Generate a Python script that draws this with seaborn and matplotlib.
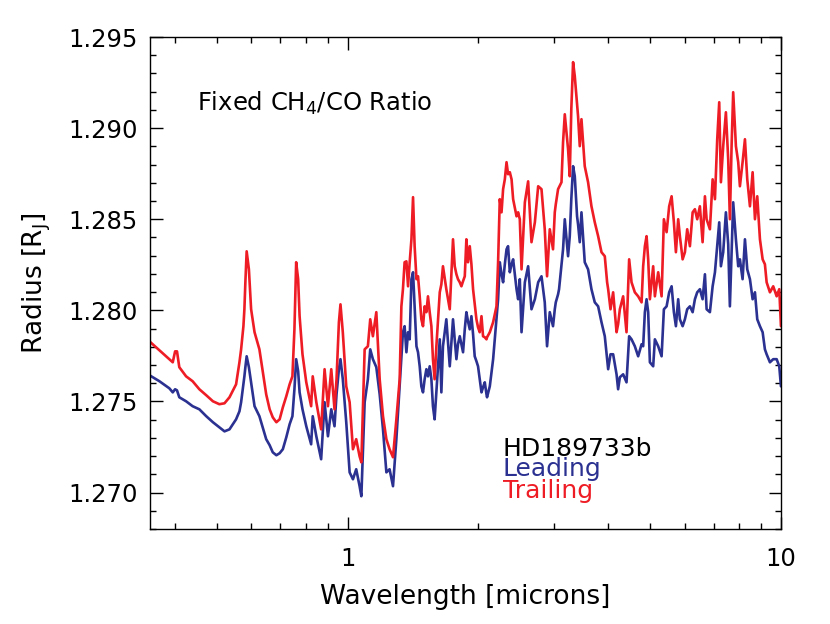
import numpy as np
import pandas as pd
import matplotlib
matplotlib.use("Agg")
import matplotlib.pyplot as plt
import matplotlib.ticker as mticker
import seaborn as sns

# Wavelength grid [microns] shared by both spectra
wavelength = [
    0.349, 0.368, 0.388, 0.395, 0.400, 0.404, 0.409, 0.424, 0.439, 0.455,
    0.472, 0.489, 0.506, 0.520, 0.534, 0.553, 0.563, 0.568, 0.575, 0.578,
    0.581, 0.585, 0.592, 0.599, 0.610, 0.626, 0.649, 0.661, 0.672, 0.685,
    0.697, 0.709, 0.722, 0.735, 0.746, 0.754, 0.761, 0.769, 0.775, 0.787,
    0.803, 0.824, 0.831, 0.847, 0.869, 0.885, 0.901, 0.917, 0.933, 0.943,
    0.955, 0.963, 0.975, 0.993, 1.011, 1.029, 1.047, 1.066, 1.076, 1.095,
    1.114, 1.128, 1.144, 1.165, 1.186, 1.207, 1.229, 1.250, 1.273, 1.296,
    1.319, 1.331, 1.342, 1.354, 1.367, 1.379, 1.391, 1.404, 1.416, 1.428,
    1.442, 1.454, 1.467, 1.480, 1.493, 1.506, 1.520, 1.533, 1.547, 1.561,
    1.574, 1.588, 1.603, 1.632, 1.646, 1.660, 1.690, 1.721, 1.751, 1.767,
    1.783, 1.798, 1.815, 1.831, 1.847, 1.864, 1.880, 1.896, 1.914, 1.931,
    1.948, 1.965, 1.983, 2.000, 2.018, 2.037, 2.054, 2.073, 2.092, 2.098,
    2.129, 2.167, 2.206, 2.225, 2.245, 2.266, 2.285, 2.306, 2.327, 2.346,
    2.368, 2.390, 2.410, 2.454, 2.475, 2.497, 2.520, 2.565, 2.610, 2.657,
    2.705, 2.753, 2.802, 2.851, 2.886, 2.928, 2.979, 3.007, 3.023, 3.060,
    3.076, 3.116, 3.142, 3.171, 3.227, 3.256, 3.283, 3.314, 3.344, 3.385,
    3.403, 3.434, 3.465, 3.526, 3.589, 3.654, 3.719, 3.786, 3.854, 3.922,
    3.971, 3.993, 4.043, 4.100, 4.175, 4.210, 4.249, 4.324, 4.402, 4.464,
    4.521, 4.601, 4.683, 4.769, 4.809, 4.853, 4.897, 4.939, 4.984, 5.072,
    5.118, 5.209, 5.304, 5.369, 5.447, 5.522, 5.594, 5.662, 5.723, 5.793,
    5.845, 5.931, 6.003, 6.077, 6.165, 6.255, 6.331, 6.409, 6.501, 6.595,
    6.677, 6.737, 6.856, 6.956, 7.042, 7.128, 7.204, 7.269, 7.358, 7.464,
    7.556, 7.624, 7.693, 7.759, 7.872, 7.969, 8.041, 8.156, 8.259, 8.361,
    8.481, 8.603, 8.710, 8.817, 8.944, 9.073, 9.183, 9.268, 9.432, 9.598,
    9.775, 9.911, 10.0,
]

# Trailing limb radius [R_J]
radius_trailing = [
    1.27830, 1.27781, 1.27732, 1.27715, 1.27775, 1.27775, 1.27688, 1.27638, 1.27611, 1.27567,
    1.27534, 1.27501, 1.27485, 1.27490, 1.27523, 1.27594, 1.27715, 1.27786, 1.27913, 1.28006,
    1.28154, 1.28324, 1.28225, 1.28006, 1.27880, 1.27786, 1.27539, 1.27457, 1.27413, 1.27386,
    1.27402, 1.27468, 1.27528, 1.27594, 1.27638, 1.27896, 1.28264, 1.28171, 1.27968, 1.27759,
    1.27605, 1.27474, 1.27638, 1.27496, 1.27347, 1.27677, 1.27474, 1.27677, 1.27457, 1.27622,
    1.27935, 1.28033, 1.27880, 1.27583, 1.27496, 1.27238, 1.27293, 1.27199, 1.27166, 1.27786,
    1.27803, 1.27951, 1.27858, 1.27990, 1.27622, 1.27419, 1.27293, 1.27238, 1.27194, 1.27402,
    1.27622, 1.28022, 1.28116, 1.28264, 1.28269, 1.28132, 1.28264, 1.28390, 1.28621, 1.28352,
    1.28171, 1.28187, 1.28077, 1.27951, 1.27913, 1.28022, 1.27990, 1.28077, 1.27990, 1.27913,
    1.27732, 1.27622, 1.27803, 1.28099, 1.28143, 1.28242, 1.28116, 1.28006, 1.28390, 1.28242,
    1.28198, 1.28171, 1.28154, 1.28132, 1.28160, 1.28187, 1.28390, 1.28264, 1.28352, 1.28253,
    1.28116, 1.28033, 1.27951, 1.27907, 1.27880, 1.27968, 1.27858, 1.27852, 1.27841, 1.27852,
    1.27880, 1.27935, 1.28022, 1.28264, 1.28610, 1.28538, 1.28665, 1.28719, 1.28813, 1.28747,
    1.28758, 1.28719, 1.28610, 1.28516, 1.28538, 1.28500, 1.28225, 1.28593, 1.28708, 1.28374,
    1.28483, 1.28681, 1.28665, 1.28445, 1.28187, 1.28445, 1.28335, 1.28538, 1.28582, 1.28665,
    1.28676, 1.28703, 1.28922, 1.29076, 1.28884, 1.28736, 1.29104, 1.29362, 1.29285, 1.29131,
    1.29065, 1.28901, 1.29049, 1.28791, 1.28703, 1.28571, 1.28483, 1.28407, 1.28319, 1.28297,
    1.28154, 1.28116, 1.28006, 1.28099, 1.27880, 1.27924, 1.28006, 1.28077, 1.27880, 1.28280,
    1.28154, 1.28099, 1.28077, 1.28044, 1.28242, 1.28352, 1.28407, 1.28280, 1.28061, 1.28242,
    1.28077, 1.28209, 1.28077, 1.28500, 1.28429, 1.28571, 1.28626, 1.28483, 1.28319, 1.28500,
    1.28407, 1.28280, 1.28319, 1.28445, 1.28352, 1.28538, 1.28555, 1.28500, 1.28571, 1.28374,
    1.28626, 1.28500, 1.28445, 1.28719, 1.28610, 1.28939, 1.29142, 1.28703, 1.28901, 1.29087,
    1.28829, 1.28500, 1.28901, 1.29197, 1.28901, 1.28813, 1.28681, 1.28813, 1.28939, 1.28719,
    1.28571, 1.28758, 1.28500, 1.28626, 1.28390, 1.28280, 1.28253, 1.28154, 1.28099, 1.28132,
    1.28077, 1.28116, 1.27913,
]

# Leading limb radius [R_J]
radius_leading = [
    1.27644, 1.27611, 1.27572, 1.27550, 1.27567, 1.27561, 1.27523, 1.27501, 1.27474, 1.27457,
    1.27419, 1.27386, 1.27358, 1.27336, 1.27347, 1.27402, 1.27446, 1.27496, 1.27594, 1.27638,
    1.27688, 1.27748, 1.27688, 1.27605, 1.27474, 1.27419, 1.27293, 1.27260, 1.27221, 1.27205,
    1.27216, 1.27238, 1.27303, 1.27375, 1.27419, 1.27567, 1.27732, 1.27666, 1.27550, 1.27457,
    1.27364, 1.27265, 1.27419, 1.27309, 1.27183, 1.27496, 1.27309, 1.27457, 1.27364, 1.27539,
    1.27677, 1.27732, 1.27622, 1.27386, 1.27111, 1.27073, 1.27128, 1.27035, 1.26980, 1.27496,
    1.27622, 1.27786, 1.27732, 1.27688, 1.27539, 1.27347, 1.27111, 1.27128, 1.27035, 1.27293,
    1.27589, 1.27732, 1.27880, 1.27913, 1.27770, 1.27880, 1.27841, 1.28171, 1.28209, 1.28022,
    1.27803, 1.27770, 1.27693, 1.27583, 1.27550, 1.27622, 1.27677, 1.27638, 1.27693, 1.27622,
    1.27474, 1.27402, 1.27550, 1.27841, 1.27550, 1.27803, 1.27951, 1.27693, 1.27951, 1.27841,
    1.27732, 1.27814, 1.27858, 1.27814, 1.27770, 1.27896, 1.27990, 1.27940, 1.27896, 1.27968,
    1.27869, 1.27748, 1.27721, 1.27693, 1.27622, 1.27550, 1.27578, 1.27605, 1.27539, 1.27523,
    1.27583, 1.27732, 1.27951, 1.28061, 1.28264, 1.28198, 1.28154, 1.28253, 1.28335, 1.28352,
    1.28209, 1.28253, 1.28280, 1.28116, 1.28061, 1.28171, 1.27880, 1.28154, 1.28242, 1.28006,
    1.28061, 1.28154, 1.28187, 1.28044, 1.27803, 1.27990, 1.27913, 1.28006, 1.28044, 1.28088,
    1.28116, 1.28253, 1.28335, 1.28500, 1.28297, 1.28407, 1.28610, 1.28791, 1.28736, 1.28516,
    1.28472, 1.28374, 1.28538, 1.28264, 1.28225, 1.28116, 1.28044, 1.28022, 1.27935, 1.27858,
    1.27732, 1.27677, 1.27759, 1.27759, 1.27649, 1.27567, 1.27633, 1.27649, 1.27605, 1.27858,
    1.27841, 1.27803, 1.27748, 1.27814, 1.27803, 1.27990, 1.28061, 1.27990, 1.27715, 1.27693,
    1.27841, 1.27803, 1.27748, 1.28006, 1.28022, 1.28099, 1.28132, 1.27990, 1.27913, 1.28061,
    1.27951, 1.27913, 1.27951, 1.28006, 1.28022, 1.27990, 1.28061, 1.28099, 1.28116, 1.28061,
    1.28198, 1.28006, 1.27990, 1.28132, 1.28209, 1.28352, 1.28483, 1.28242, 1.28319, 1.28538,
    1.28363, 1.28022, 1.28319, 1.28593, 1.28390, 1.28242, 1.28280, 1.28171, 1.28390, 1.28225,
    1.28171, 1.28061, 1.28099, 1.27951, 1.27913, 1.27880, 1.27786, 1.27759, 1.27715, 1.27732,
    1.27732, 1.27693, 1.27583,
]

series_names = ["Leading", "Trailing"]
series_colors = {"Leading": "#2B3190", "Trailing": "#EE1C25"}

# long-form table for seaborn
df = pd.concat([
    pd.DataFrame({"wavelength": wavelength, "radius": radius_leading, "limb": "Leading"}),
    pd.DataFrame({"wavelength": wavelength, "radius": radius_trailing, "limb": "Trailing"}),
], ignore_index=True)

sns.set_style("ticks")
plt.rcParams["font.family"] = ["DejaVu Sans"]
plt.rcParams["text.color"] = "black"
plt.rcParams["axes.labelcolor"] = "black"

fig = plt.figure(figsize=(8.3, 6.24), dpi=100)
ax = fig.add_axes([0.1807, 0.1522, 0.7602, 0.7885])

sns.lineplot(data=df, x="wavelength", y="radius", hue="limb",
             palette=series_colors, hue_order=series_names,
             estimator=None, sort=False, linewidth=1.9, legend=False, ax=ax)

ax.set_xscale("log")
ax.set_xlim(0.35, 10)
ax.set_ylim(1.268, 1.295)

ax.xaxis.set_major_locator(mticker.FixedLocator([1, 10]))
ax.xaxis.set_major_formatter(mticker.FixedFormatter(["1", "10"]))
ax.xaxis.set_minor_locator(mticker.LogLocator(base=10, subs=np.arange(2, 10)))
ax.xaxis.set_minor_formatter(mticker.NullFormatter())
ax.yaxis.set_major_locator(mticker.MultipleLocator(0.005))
ax.yaxis.set_minor_locator(mticker.MultipleLocator(0.001))
ax.yaxis.set_major_formatter(mticker.FormatStrFormatter("%.3f"))

ax.tick_params(which="both", direction="in", top=True, right=True,
               color="black", labelcolor="black", width=1.0)
ax.tick_params(which="major", length=9, labelsize=17.5)
ax.tick_params(axis="x", which="major", pad=13)
ax.tick_params(axis="y", which="major", pad=9)
ax.tick_params(which="minor", length=4.5)
for side in ax.spines.values():
    side.set_linewidth(1.0)
    side.set_color("black")

ax.set_xlabel("Wavelength [microns]", fontsize=19, labelpad=9)
ax.set_ylabel("Radius [R$_\\mathregular{J}$]", fontsize=19, labelpad=11)

ax.text(0.074, 0.865, "Fixed CH$_\\mathregular{4}$/CO Ratio", transform=ax.transAxes,
        fontsize=17.5, va="center", ha="left")
ax.text(0.559, 0.162, "HD189733b", transform=ax.transAxes,
        fontsize=18, va="center", ha="left")
ax.text(0.559, 0.121, "Leading", transform=ax.transAxes,
        fontsize=18, va="center", ha="left", color=series_colors["Leading"])
ax.text(0.559, 0.077, "Trailing", transform=ax.transAxes,
        fontsize=18, va="center", ha="left", color=series_colors["Trailing"])

fig.savefig("out.png", dpi=100)
